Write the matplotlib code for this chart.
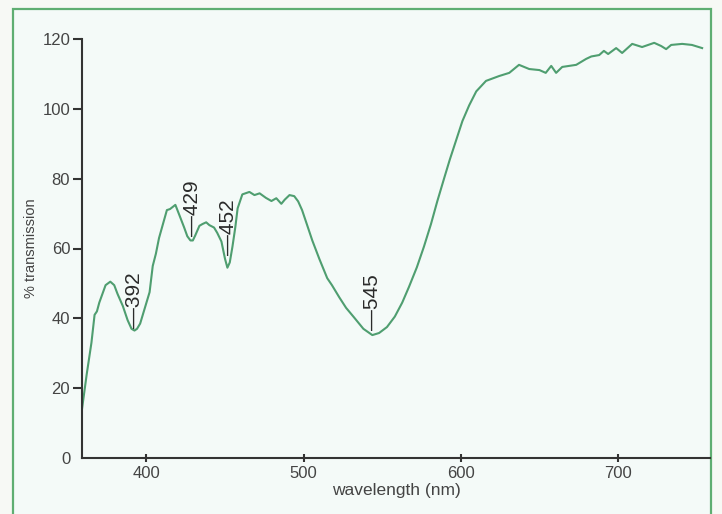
import matplotlib
matplotlib.use("Agg")
import matplotlib.pyplot as plt
from matplotlib.patches import Rectangle

plt.rcParams['font.family'] = ['Liberation Sans', 'DejaVu Sans']

wavelength = [359, 362, 365, 367, 368.5, 370, 372, 374, 377, 379.5, 381.6, 385, 388, 390.5,
              392.4, 394, 396, 399, 402, 404, 406, 408, 410.5, 413, 415, 418.4, 421, 424,
              426, 428, 429.5, 431, 433.7, 435.6, 438, 440, 443, 445, 447.7, 450, 451.5,
              453, 454.7, 456.5, 458, 461, 465.5, 468.7, 472, 476, 479.5, 482.6, 485.8,
              488, 491, 494, 496.5, 499, 502, 505.5, 510, 515, 518, 522.7, 527, 532, 538,
              543.7, 548, 553, 558, 562.7, 567, 572, 576.5, 581, 585, 589.5, 593, 597,
              601, 605.3, 609.8, 616, 624.4, 630.8, 637, 643.5, 650, 654, 657.5, 660.6,
              664.5, 673.4, 679.7, 683, 688, 691, 693.7, 698.8, 702.6, 709, 715.3, 723,
              727.4, 730.6, 733.8, 740.8, 747, 753.5]
transmission = [14, 24, 33, 41, 42, 44.5, 47, 49.5, 50.5, 49.5, 47, 43.5, 39.5, 37,
                36.5, 37, 38.5, 43, 47.5, 55, 58.5, 63, 67, 71, 71.3, 72.5, 69.5, 66,
                63.5, 62.3, 62.3, 63.7, 66.5, 67, 67.5, 66.7, 66, 64.5, 62, 57, 54.5,
                56, 60.5, 66, 71.5, 75.5, 76.2, 75.3, 75.8, 74.5, 73.6, 74.4, 72.8,
                74, 75.3, 75, 73.5, 71, 67, 62.3, 57, 51.5, 49.5, 46, 43, 40.3, 37,
                35.2, 35.8, 37.5, 40.5, 44.5, 49, 54.6, 60.5, 67, 73.5, 80.3, 85.5, 91,
                96.5, 101, 105, 108, 109.4, 110.3, 112.6, 111.4, 111.1, 110.3, 112.3, 110.3,
                112, 112.6, 114.3, 115, 115.4, 116.6, 115.7, 117.4, 116, 118.6, 117.7, 118.9,
                118, 117.1, 118.3, 118.6, 118.3, 117.4]

peak_x = [392.5, 429.3, 452.2, 543.6]
peak_y = [37.3, 63.7, 58.0, 36.6]
peak_labels = ['392', '429', '452', '545']

x_ticks = [400, 500, 600, 700]
y_ticks = [0, 20, 40, 60, 80, 100, 120]

bg = '#f4faf8'
fig = plt.figure(figsize=(7.22, 5.14), dpi=100, facecolor='#f7f9f5')
fig.add_artist(Rectangle((13 / 722, -0.05), (711 - 13) / 722, 1 - 9 / 514 + 0.05,
                         transform=fig.transFigure, facecolor=bg,
                         edgecolor='#5fae72', linewidth=1.6, zorder=0))
ax = fig.add_axes([82 / 722, 1 - 458 / 514, (710 - 82) / 722, (458 - 39) / 514])
ax.set_facecolor('none')

ax.plot(wavelength, transmission, color='#4f9e70', linewidth=1.5)

for px, py, lab in zip(peak_x, peak_y, peak_labels):
    ax.text(px, py, '\u2014' + lab, rotation=90, ha='center', va='bottom',
            fontsize=15, color='#2a2a2a')

ax.set_xlim(359, 758.5)
ax.set_ylim(0, 120)
ax.set_xticks(x_ticks)
ax.set_yticks(y_ticks)
for s in ['top', 'right']:
    ax.spines[s].set_visible(False)
for s in ['left', 'bottom']:
    ax.spines[s].set_color('#333333')
    ax.spines[s].set_linewidth(1.5)
ax.tick_params(axis='y', direction='out', length=6.5, width=1.5, color='#333333',
               labelsize=12, labelcolor='#444444', pad=2)
ax.tick_params(axis='x', direction='inout', length=6, width=1.5, color='#333333',
               labelsize=12, labelcolor='#444444', pad=3)
ax.yaxis.get_major_ticks()[0].tick1line.set_visible(False)
ax.set_xlabel('wavelength (nm)', fontsize=12.5, color='#444444', labelpad=1)
ax.set_ylabel('% transmission', fontsize=10.5, color='#444444', labelpad=3)

fig.savefig('out.png', dpi=100, facecolor=fig.get_facecolor())
